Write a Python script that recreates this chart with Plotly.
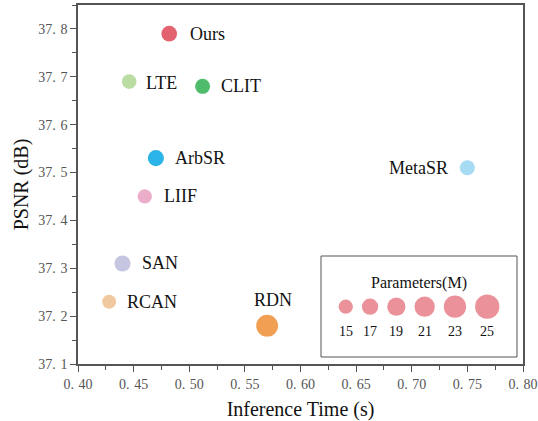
import plotly.graph_objects as go

# ---------------- data ----------------
models = ["Ours", "LTE", "CLIT", "ArbSR", "LIIF", "SAN", "RCAN", "RDN", "MetaSR"]
inference_time = [0.482, 0.446, 0.512, 0.470, 0.460, 0.440, 0.428, 0.570, 0.750]
psnr_db = [37.79, 37.69, 37.68, 37.53, 37.45, 37.31, 37.23, 37.18, 37.51]
params_m = [16.4, 15.4, 15.7, 16.8, 15.0, 16.8, 14.7, 22.5, 15.7]

legend_params = [15, 17, 19, 21, 23, 25]

x_tick_vals = [0.40, 0.45, 0.50, 0.55, 0.60, 0.65, 0.70, 0.75, 0.80]
x_tick_text = ["0.\u200440", "0.\u200445", "0.\u200450", "0.\u200455", "0.\u200460",
               "0.\u200465", "0.\u200470", "0.\u200475", "0.\u200480"]
y_tick_vals = [37.1, 37.2, 37.3, 37.4, 37.5, 37.6, 37.7, 37.8]
y_tick_text = ["37.\u20041", "37.\u20042", "37.\u20043", "37.\u20044",
               "37.\u20045", "37.\u20046", "37.\u20047", "37.\u20048"]

# ---------------- styles ----------------
colors = {
    "Ours": "#E2636F", "LTE": "#BBDDA3", "CLIT": "#4FBC6B", "ArbSR": "#2BB4E8",
    "LIIF": "#EBADC9", "SAN": "#C6C6E3", "RCAN": "#F0C9A1", "RDN": "#F19F52",
    "MetaSR": "#A7DAF3",
}
# label placement: (xanchor, xshift px, yshift px)
label_pos = {
    "Ours": ("left", 19, 0), "LTE": ("left", 15, -1), "CLIT": ("left", 16, 0),
    "ArbSR": ("left", 17, 0), "LIIF": ("left", 17, 0), "SAN": ("left", 17, 0),
    "RCAN": ("left", 16, 0), "RDN": ("center", 6, 26), "MetaSR": ("right", -17, 0),
}
SERIF = "Liberation Serif, Times New Roman, serif"
AXIS_COLOR = "#555555"


def diameter(p):
    return 14.3 + (p - 15.0)


W, H = 538, 421
ML, MR, MT, MB = 78, 15, 5, 57
PW, PH = W - ML - MR, H - MT - MB

fig = go.Figure()

fig.add_trace(go.Scatter(
    x=inference_time, y=psnr_db, mode="markers",
    marker=dict(size=[diameter(p) for p in params_m],
                color=[colors[m] for m in models], line=dict(width=0), opacity=1),
    hoverinfo="text", text=models, showlegend=False,
))

annotations = []
for m, xv, yv in zip(models, inference_time, psnr_db):
    anc, xs, ys = label_pos[m]
    annotations.append(dict(
        x=xv, y=yv, xref="x", yref="y", text=m, showarrow=False,
        xanchor=anc, yanchor="middle", xshift=xs, yshift=ys,
        font=dict(family=SERIF, size=18, color="#111111"),
    ))

# ---------------- size legend (pixel overlay axes) ----------------
box = dict(x0=243, x1=439, y0=7, y1=108)
gap = 9
ds = [diameter(p) for p in legend_params]
total = sum(ds) + gap * (len(ds) - 1)
cx = (box["x0"] + box["x1"]) / 2
pos = []
cur = cx - total / 2
for d in ds:
    pos.append(cur + d / 2)
    cur += d + gap
row_y = 57.3
num_y = 32.3
title_y = 80.7

fig.add_trace(go.Scatter(
    x=pos, y=[row_y] * len(pos), xaxis="x2", yaxis="y2", mode="markers",
    marker=dict(size=ds, color=colors["Ours"], line=dict(width=0)),
    hoverinfo="skip", showlegend=False,
))
for p, xp in zip(legend_params, pos):
    annotations.append(dict(
        x=xp, y=num_y, xref="x2", yref="y2", text=str(p), showarrow=False,
        xanchor="center", yanchor="middle",
        font=dict(family=SERIF, size=14, color="#111111"),
    ))
annotations.append(dict(
    x=cx, y=title_y, xref="x2", yref="y2", text="Parameters(M)", showarrow=False,
    xanchor="center", yanchor="middle",
    font=dict(family=SERIF, size=16, color="#111111"),
))

fig.add_shape(type="rect", xref="x2", yref="y2", layer="below",
              x0=box["x0"], x1=box["x1"], y0=box["y0"], y1=box["y1"],
              line=dict(color=AXIS_COLOR, width=1), fillcolor="rgba(0,0,0,0)")

axis_common = dict(
    showgrid=False, zeroline=False, showline=True, linecolor=AXIS_COLOR, linewidth=1.5,
    mirror=True, ticks="outside", ticklen=6, tickwidth=1, tickcolor=AXIS_COLOR,
    tickfont=dict(family=SERIF, size=14, color="#555555"), automargin=False,
    ticklabeloverflow="allow",
)

fig.update_layout(
    width=W, height=H,
    margin=dict(l=ML, r=MR, t=MT, b=MB),
    paper_bgcolor="white", plot_bgcolor="white",
    xaxis=dict(range=[0.40, 0.80], tickvals=x_tick_vals, ticktext=x_tick_text,
               minor=dict(ticks="outside", ticklen=4, tickcolor=AXIS_COLOR, dtick=0.025, tick0=0.4),
               title=dict(text="Inference Time (s)", font=dict(family=SERIF, size=20, color="#111111"),
                          standoff=14),
               **axis_common),
    yaxis=dict(range=[37.1, 37.85], tickvals=y_tick_vals, ticktext=y_tick_text,
               minor=dict(ticks="outside", ticklen=4, tickcolor=AXIS_COLOR, dtick=0.05, tick0=37.1),
               title=dict(text="PSNR (dB)", font=dict(family=SERIF, size=20, color="#111111"),
                          standoff=4),
               **axis_common),
    xaxis2=dict(range=[0, PW], overlaying="x", visible=False, anchor="y2"),
    yaxis2=dict(range=[0, PH], overlaying="y", visible=False, anchor="x2"),
    annotations=annotations,
)

fig.write_html("out.html")
